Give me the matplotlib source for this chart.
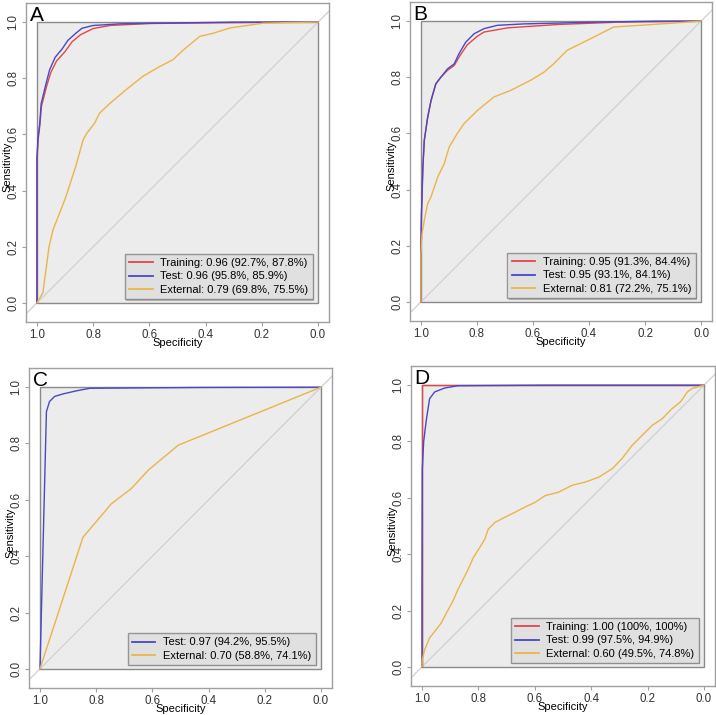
import numpy as np
import matplotlib.pyplot as plt

plt.rcParams['font.family'] = ['Liberation Sans', 'DejaVu Sans']

# ROC curves: (specificity, sensitivity)
a_train_spec = [1.0, 1.0, 0.996, 0.99, 0.984, 0.966, 0.951, 0.93, 0.90, 0.875, 0.845, 0.80, 0.74, 0.60, 0.125, 0.0]
a_train_sens = [0.0, 0.50, 0.58, 0.63, 0.70, 0.77, 0.82, 0.862, 0.895, 0.93, 0.955, 0.977, 0.988, 0.995, 1.0, 1.0]
a_test_spec = [1.0, 1.0, 0.996, 0.99, 0.985, 0.968, 0.955, 0.935, 0.91, 0.89, 0.862, 0.84, 0.80, 0.70, 0.30, 0.0]
a_test_sens = [0.0, 0.52, 0.59, 0.64, 0.71, 0.78, 0.83, 0.875, 0.905, 0.935, 0.96, 0.978, 0.988, 0.994, 1.0, 1.0]
a_ext_spec = [1.0, 0.979, 0.957, 0.943, 0.90, 0.89, 0.862, 0.836, 0.822, 0.795, 0.777, 0.741, 0.682, 0.623, 0.563, 0.516, 0.48, 0.421, 0.374, 0.314, 0.196, 0.065, 0.0]
a_ext_sens = [0.0, 0.036, 0.20, 0.26, 0.37, 0.40, 0.486, 0.58, 0.605, 0.64, 0.676, 0.71, 0.76, 0.807, 0.842, 0.866, 0.90, 0.949, 0.96, 0.979, 0.996, 0.999, 1.0]

b_train_spec = [1.0, 1.0, 0.998, 0.993, 0.988, 0.976, 0.964, 0.947, 0.929, 0.905, 0.881, 0.862, 0.835, 0.80, 0.775, 0.69, 0.51, 0.30, 0.0]
b_train_sens = [0.0, 0.17, 0.314, 0.48, 0.575, 0.655, 0.715, 0.775, 0.80, 0.825, 0.842, 0.875, 0.915, 0.945, 0.961, 0.976, 0.988, 0.996, 1.0]
b_test_spec = [1.0, 1.0, 0.998, 0.993, 0.988, 0.976, 0.964, 0.947, 0.929, 0.905, 0.881, 0.864, 0.84, 0.81, 0.775, 0.727, 0.632, 0.395, 0.158, 0.0]
b_test_sens = [0.0, 0.17, 0.314, 0.48, 0.575, 0.658, 0.718, 0.777, 0.80, 0.83, 0.848, 0.884, 0.925, 0.955, 0.973, 0.985, 0.99, 0.996, 1.0, 1.0]
b_ext_spec = [1.0, 1.0, 0.996, 0.988, 0.976, 0.964, 0.94, 0.917, 0.899, 0.87, 0.846, 0.798, 0.739, 0.68, 0.609, 0.561, 0.526, 0.478, 0.395, 0.312, 0.217, 0.098, 0.0]
b_ext_sens = [0.0, 0.17, 0.243, 0.29, 0.35, 0.374, 0.445, 0.492, 0.552, 0.60, 0.635, 0.682, 0.73, 0.753, 0.789, 0.818, 0.848, 0.896, 0.937, 0.979, 0.985, 0.993, 1.0]

c_test_spec = [1.0, 0.977, 0.966, 0.948, 0.918, 0.87, 0.823, 0.43, 0.0]
c_test_sens = [0.0, 0.913, 0.949, 0.967, 0.976, 0.987, 0.996, 0.999, 1.0]
c_ext_spec = [1.0, 0.847, 0.746, 0.675, 0.615, 0.508, 0.0]
c_ext_sens = [0.0, 0.467, 0.586, 0.64, 0.705, 0.794, 1.0]

d_train_spec = [1.0, 1.0, 0.0]
d_train_sens = [0.0, 1.0, 1.0]
d_test_spec = [1.0, 1.0, 0.999, 0.994, 0.99, 0.984, 0.973, 0.955, 0.919, 0.872, 0.563, 0.0]
d_test_sens = [0.0, 0.276, 0.703, 0.80, 0.834, 0.881, 0.952, 0.976, 0.99, 0.998, 1.0, 1.0]
d_ext_spec = [1.0, 0.999, 0.99, 0.973, 0.949, 0.931, 0.913, 0.89, 0.872, 0.854, 0.836, 0.818, 0.795, 0.777, 0.765, 0.741,
              0.706, 0.67, 0.635, 0.599, 0.563, 0.516, 0.469, 0.421, 0.374, 0.326, 0.291, 0.255, 0.219, 0.184, 0.148,
              0.113, 0.083, 0.059, 0.042, 0.0]
d_ext_sens = [0.0, 0.026, 0.062, 0.103, 0.133, 0.157, 0.192, 0.234, 0.276, 0.311, 0.347, 0.388, 0.424, 0.454, 0.489, 0.513,
              0.531, 0.549, 0.567, 0.584, 0.608, 0.62, 0.644, 0.656, 0.673, 0.703, 0.739, 0.786, 0.822, 0.857, 0.881,
              0.917, 0.941, 0.976, 0.988, 1.0]

a_labels = ["Training: 0.96 (92.7%, 87.8%)", "Test: 0.96 (95.8%, 85.9%)", "External: 0.79 (69.8%, 75.5%)"]
b_labels = ["Training: 0.95 (91.3%, 84.4%)", "Test: 0.95 (93.1%, 84.1%)", "External: 0.81 (72.2%, 75.1%)"]
c_labels = ["Test: 0.97 (94.2%, 95.5%)", "External: 0.70 (58.8%, 74.1%)"]
d_labels = ["Training: 1.00 (100%, 100%)", "Test: 0.99 (97.5%, 94.9%)", "External: 0.60 (49.5%, 74.8%)"]

RED = "#e2474b"
BLUE = "#4848c8"
ORANGE = "#e8b54a"

W, H = 716, 715
fig = plt.figure(figsize=(W / 100, H / 100), dpi=100)

# axes boxes in pixels: left, top, right, bottom
boxes = {
    "A": (26, 3, 329, 322),
    "B": (410, 2, 712, 321),
    "C": (29, 368, 332, 688),
    "D": (411, 366, 715, 686),
}

panels = {
    "A": ([(a_train_spec, a_train_sens, RED), (a_test_spec, a_test_sens, BLUE),
           (a_ext_spec, a_ext_sens, ORANGE)], a_labels),
    "B": ([(b_train_spec, b_train_sens, RED), (b_test_spec, b_test_sens, BLUE),
           (b_ext_spec, b_ext_sens, ORANGE)], b_labels),
    "C": ([(c_test_spec, c_test_sens, BLUE), (c_ext_spec, c_ext_sens, ORANGE)], c_labels),
    "D": ([(d_train_spec, d_train_sens, RED), (d_test_spec, d_test_sens, BLUE),
           (d_ext_spec, d_ext_sens, ORANGE)], d_labels),
}

FS = 8
legends = []

for key, (l, t, r, b) in boxes.items():
    ax = fig.add_axes([l / W, 1 - b / H, (r - l) / W, (b - t) / H])
    ax.set_xlim(1.039, -0.039)
    ax.set_ylim(-0.068, 1.068)
    ax.set_facecolor("white")

    # grey plotting area
    ax.add_patch(plt.Rectangle((0, 0), 1, 1, facecolor="#ececec",
                               edgecolor="#8a8a8a", lw=1.0, zorder=0))
    ax.axline((1, 0), (0, 1), color="#d0d0d0", lw=0.9, zorder=1)

    curves, labels = panels[key]
    handles = []
    for (sx, sy, col), lab in zip(curves, labels):
        h, = ax.plot(sx, sy, color=col, lw=1.0, zorder=3, label=lab)
        handles.append(h)

    for s in ax.spines.values():
        s.set_color("#a0a0a0")
        s.set_linewidth(1.0)
    ax.set_xticks([1.0, 0.8, 0.6, 0.4, 0.2, 0.0])
    ax.set_yticks([0.0, 0.2, 0.4, 0.6, 0.8, 1.0])
    ax.set_xticklabels(["1.0", "0.8", "0.6", "0.4", "0.2", "0.0"])
    ax.set_yticklabels(["0.0", "0.2", "0.4", "0.6", "0.8", "1.0"],
                       rotation=90, va="center")
    ax.tick_params(direction="out", length=3, width=0.8, color="#a0a0a0",
                   labelsize=FS + 0.3, labelcolor="#333333", pad=2)
    ax.set_xlabel("Specificity", fontsize=FS)
    ax.set_ylabel("Sensitivity", fontsize=FS)
    ax.xaxis.label.set_va("center")
    ax.yaxis.label.set_va("center")
    ax.xaxis.set_label_coords(0.5, -0.066)
    ax.yaxis.set_label_coords(-0.06, 0.486)

    ax.text(0.012, 0.99, key, transform=ax.transAxes, fontsize=15,
            ha="left", va="top", zorder=5)

    leg = ax.legend(handles=handles, loc="lower right",
                    bbox_to_anchor=(0.947, 0.072), fontsize=FS,
                    frameon=True, fancybox=False,
                    handlelength=2.1, handletextpad=0.7, labelspacing=0.28,
                    borderpad=0.4, borderaxespad=0)
    leg.get_frame().set_facecolor("#ececec")
    leg.get_frame().set_edgecolor("#808080")
    leg.get_frame().set_linewidth(1.0)
    for ln in leg.get_lines():
        ln.set_linewidth(1.3)
    legends.append((ax, leg))

# thin drop shadow under each legend box
fig.canvas.draw()
for ax, leg in legends:
    bb = leg.get_window_extent()
    ax.add_patch(plt.Rectangle((bb.x0 + 1.5, bb.y0 - 1.5), bb.width, bb.height,
                               transform=None, facecolor="#b4b4b4",
                               edgecolor="none", zorder=4))

fig.savefig("out.png", dpi=100)
